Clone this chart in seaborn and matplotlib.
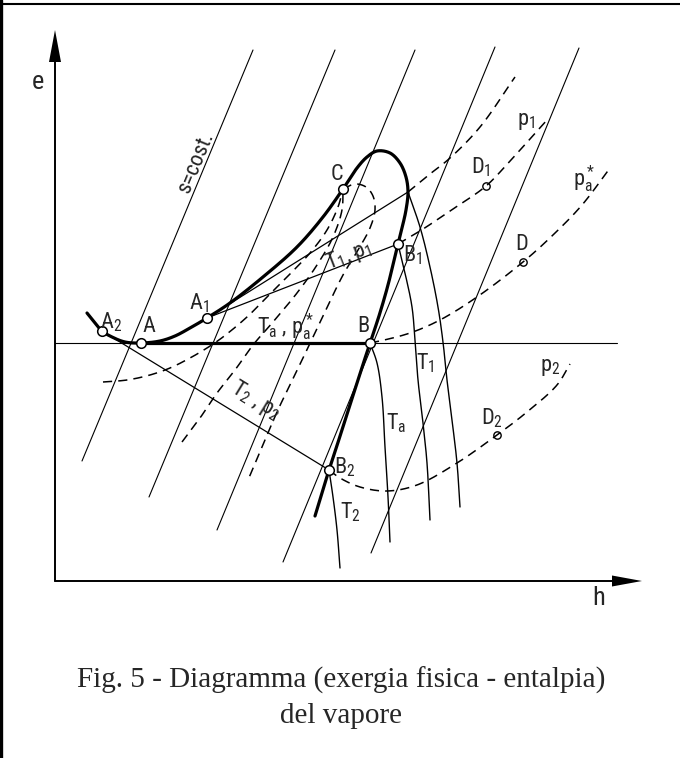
import numpy as np
import matplotlib
matplotlib.use("Agg")
import matplotlib.pyplot as plt
import seaborn as sns

# ---- diagram data: enthalpy h (right), physical exergy e (up) ----
# saturation curve (liquid branch, critical point C, vapour branch)
sat_h = [30, 38, 45, 55, 68, 84, 103, 118, 133, 150, 173, 206, 240, 266, 286,
         300, 310, 320, 333, 343, 349, 351, 349, 345, 341, 331, 322, 313, 300,
         286, 272, 265, 258]
sat_e = [268, 258, 250, 244, 239, 238, 240, 245, 253, 263, 278, 304, 334, 364,
         392, 413, 424, 430, 428, 418, 404, 389, 371, 353, 337, 296, 265, 238,
         198, 154, 111, 88, 65]

# state points on the saturation curve
state_names = ["A2", "A", "A1", "C", "B1", "B", "B2"]
state_h = [45, 84, 150, 286, 341, 313, 272]
state_e = [250, 238, 263, 392, 337, 238, 111]

# superheated states
vap_names = ["D1", "D", "D2"]
vap_h = [429, 466, 440]
vap_e = [395, 319, 146]

# isentropes s = cost. (upper and lower ends)
isen_top_h = [196, 278, 358, 438, 522]
isen_top_e = [531, 531, 531, 534, 533]
isen_bot_h = [25, 92, 160, 226, 314]
isen_bot_e = [120, 84, 51, 19, 28]

# reference exergy level (dead state) and ambient isobar A-B
ref_h = [-2, 560]
ref_e = [238, 238]
amb_h = [84, 313]
amb_e = [238, 238]

# two-phase isobars (straight) and the upper tangent line
iso2_h = [45, 272]            # T2, p2 : A2 -> B2
iso2_e = [250, 111]
iso1_h = [150, 341]           # T1, p1 : A1 -> B1
iso1_e = [263, 337]
tang_h = [150, 351]
tang_e = [263, 389]

# isotherms in the vapour region
th_hi_h = [351, 363, 373, 381, 386, 390, 395, 400, 403]
th_hi_e = [389, 354, 314, 274, 239, 201, 161, 118, 74]
t1_h = [341, 348, 355, 358, 361, 366, 370, 373]
t1_e = [337, 308, 274, 241, 201, 158, 118, 61]
ta_h = [313, 320, 325, 328, 331, 333]
ta_e = [238, 218, 184, 134, 84, 39]
t2_h = [272, 276, 280, 283]
t2_e = [111, 84, 51, 13]

# isobars in the vapour region (dashed)
phi_h = [351, 373, 393, 423, 458]
phi_e = [389, 407, 423, 454, 504]
p1_h = [341, 363, 393, 429, 453, 473, 490]
p1_e = [337, 350, 370, 395, 420, 442, 461]
pa_h = [313, 323, 353, 383, 420, 466, 496, 525, 553]
pa_e = [238, 240, 248, 261, 284, 319, 346, 376, 413]
p2_h = [272, 283, 303, 330, 360, 400, 440, 470, 500, 513]
p2_e = [111, 103, 94, 90, 96, 118, 146, 169, 196, 217]

# dashed lines converging on the critical point
dl1_h = [46, 70, 93, 113, 133, 150, 166, 190, 210, 233, 253, 270, 281, 286]
dl1_e = [199, 201, 206, 213, 223, 233, 244, 264, 284, 307, 328, 351, 374, 392]
dl2_h = [125, 143, 160, 178, 196, 216, 240, 260, 276, 285, 286]
dl2_e = [139, 163, 188, 211, 236, 259, 288, 316, 344, 371, 391]
dl3_h = [286, 298, 309, 316, 318, 313, 301, 286, 266, 246, 220, 206, 191]
dl3_e = [392, 397, 394, 385, 371, 353, 331, 306, 265, 223, 169, 136, 101]


def spline(h, e, n=24):
    """Centripetal Catmull-Rom curve through the given nodes."""
    P = np.column_stack([h, e]).astype(float)
    P = np.vstack([2 * P[0] - P[1], P, 2 * P[-1] - P[-2]])
    xs, ys = [], []
    for i in range(len(P) - 3):
        p0, p1, p2, p3 = P[i], P[i + 1], P[i + 2], P[i + 3]
        t0 = 0.0
        t1 = t0 + max(np.hypot(*(p1 - p0)) ** 0.5, 1e-6)
        t2 = t1 + max(np.hypot(*(p2 - p1)) ** 0.5, 1e-6)
        t3 = t2 + max(np.hypot(*(p3 - p2)) ** 0.5, 1e-6)
        t = np.linspace(t1, t2, n)[:, None]
        a1 = (t1 - t) / (t1 - t0) * p0 + (t - t0) / (t1 - t0) * p1
        a2 = (t2 - t) / (t2 - t1) * p1 + (t - t1) / (t2 - t1) * p2
        a3 = (t3 - t) / (t3 - t2) * p2 + (t - t2) / (t3 - t2) * p3
        b1 = (t2 - t) / (t2 - t0) * a1 + (t - t0) / (t2 - t0) * a2
        b2 = (t3 - t) / (t3 - t1) * a2 + (t - t1) / (t3 - t1) * a3
        c = (t2 - t) / (t2 - t1) * b1 + (t - t1) / (t2 - t1) * b2
        c = c if i == 0 else c[1:]
        xs.append(c[:, 0])
        ys.append(c[:, 1])
    return np.concatenate(xs), np.concatenate(ys)


sns.set_theme(style="white")
plt.rcParams["font.family"] = ["Roboto Condensed", "Liberation Sans Narrow",
                               "DejaVu Sans"]
plt.rcParams["font.stretch"] = "condensed"
plt.rcParams["mathtext.default"] = "regular"

fig = plt.figure(figsize=(6.8, 7.58), dpi=100)
ax = fig.add_axes([0, 0, 1, 1])
ax.set_xlim(-57, 623)
ax.set_ylim(-177, 581)
ax.axis("off")

DASH = (0, (6, 4))


def curve(h, e, lw=0.8, ls="-", z=2, smooth=True):
    if smooth and len(h) > 2:
        x, y = spline(h, e)
    else:
        x, y = np.asarray(h, float), np.asarray(e, float)
    sns.lineplot(x=x, y=y, sort=False, estimator=None, color="black",
                 linewidth=lw, linestyle=ls, zorder=z, ax=ax)


# page frame (top rule and left rule)
ax.plot([-57, 623], [577, 577], color="black", lw=1.5, clip_on=False)
ax.plot([-55.5, -55.5], [-177, 581], color="black", lw=2.4, clip_on=False)

# coordinate axes with arrow heads
ax.plot([-2, -2], [0, 525], color="black", lw=1.4)
ax.plot([-2, 560], [0, 0], color="black", lw=1.4)
ax.fill([-8, 4, -2], [519, 519, 551], color="black", lw=0)
ax.fill([555, 555, 585], [5.5, -5.5, 0], color="black", lw=0)
ax.text(-19, 499, "e", fontsize=19, ha="center", va="center")
ax.text(542, -17, "h", fontsize=19, ha="center", va="center")

# isentropes
for h0, e0, h1, e1 in zip(isen_top_h, isen_top_e, isen_bot_h, isen_bot_e):
    curve([h0, h1], [e0, e1], lw=0.8)
ax.text(139, 419, "s=cost.", fontsize=16, rotation=67.4,
        ha="center", va="center", rotation_mode="anchor")

# reference level and straight isobars
curve(ref_h, ref_e, lw=0.8)
curve(iso2_h, iso2_e, lw=0.9)
curve(iso1_h, iso1_e, lw=0.9)
curve(tang_h, tang_e, lw=0.9)

# isotherms in the vapour field
for hh, ee in [(th_hi_h, th_hi_e), (t1_h, t1_e), (ta_h, ta_e), (t2_h, t2_e)]:
    curve(hh, ee, lw=1.0)

# dashed isobars
for hh, ee in [(phi_h, phi_e), (p1_h, p1_e), (pa_h, pa_e), (p2_h, p2_e),
               (dl1_h, dl1_e), (dl2_h, dl2_e), (dl3_h, dl3_e)]:
    curve(hh, ee, lw=1.1, ls=DASH, z=4)

# saturation curve and ambient isobar (heavy)
curve(sat_h, sat_e, lw=2.3, z=3)
curve(amb_h, amb_e, lw=2.3, z=3, smooth=False)

# state points
sns.scatterplot(x=state_h, y=state_e, s=48, color="white", edgecolor="black",
                linewidth=1.1, zorder=6, ax=ax)
sns.scatterplot(x=vap_h, y=vap_e, s=28, color="white", edgecolor="black",
                linewidth=1.0, zorder=3, ax=ax)

# point and line labels
labels = [
    (54, 259, r"A$_2$", 0), (92, 254, "A", 0), (142, 278, r"A$_1$", 0),
    (280, 407, "C", 0), (306, 255, "B", 0), (356, 326, r"B$_1$", 0),
    (288, 114, r"B$_2$", 0), (424, 414, r"D$_1$", 0), (465, 337, "D", 0),
    (435, 163, r"D$_2$", 0), (469, 460, r"p$_1$", 0),
    (527, 402, r"p$_a^*$", 0), (493, 213, r"p$_2$", 0),
    (368, 218, r"T$_1$", 0), (339, 158, r"T$_a$", 0), (293, 69, r"T$_2$", 0),
    (228, 254, r"T$_a$ , p$_a^*$", 0), (292, 325, r"T$_1$, p$_1$", 21.2),
    (199, 180, r"T$_2$ , p$_2$", -31.5),
]
for x, y, s, rot in labels:
    ax.text(x, y, s, fontsize=16, ha="center", va="center", rotation=rot,
            rotation_mode="anchor", zorder=7)

# caption
ax.text(284, -107, "Fig. 5 - Diagramma (exergia fisica - entalpia)",
        family="Liberation Serif", fontsize=21, ha="center", va="baseline")
ax.text(284, -142, "del vapore", family="Liberation Serif", fontsize=21,
        ha="center", va="baseline")

fig.savefig("out.png", dpi=100)
